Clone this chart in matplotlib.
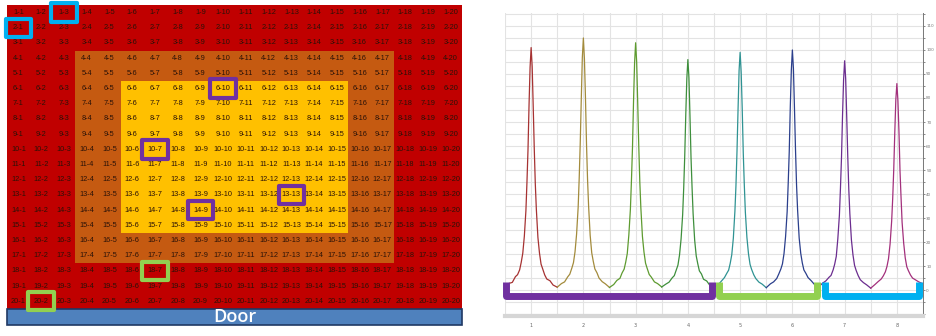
import numpy as np
import matplotlib
matplotlib.use("Agg")
import matplotlib.pyplot as plt
from matplotlib.colors import ListedColormap
from matplotlib.patches import Rectangle

# ---- left panel: 20 x 20 seat grid ----
n_rows = 20
n_cols = 20
middle_zone = (4, 17)   # rows/cols in the brown ring
inner_zone = (6, 15)    # rows/cols in the yellow centre
zone_colors = ["#c00000", "#c55a11", "#ffc000"]

blue_cells = [(1, 3), (2, 1)]
purple_cells = [(6, 10), (10, 7), (14, 9), (13, 13)]
green_cells = [(18, 7), (20, 2)]

# ---- right panel: eight peaks ----
peak_positions = [1, 2, 3, 4, 5, 6, 7, 8]
peak_colors = ["#a63232", "#a38b3c", "#5e9b30", "#3e8f3c",
               "#2f9393", "#2b3f8c", "#6b2d8f", "#a3307c"]
offsets = [-0.5, -0.42, -0.36, -0.3, -0.26, -0.22, -0.19, -0.16, -0.13, -0.1,
           -0.08, -0.06, -0.04, -0.02, 0, 0.02, 0.04, 0.06, 0.08, 0.1,
           0.13, 0.16, 0.19, 0.22, 0.26, 0.3, 0.36, 0.42, 0.5]
trace1 = [1.9, 2.8, 3.2, 5.6, 6.4, 8.4, 11.5, 15.3, 22.4, 33.0, 44.8, 58.3, 77.0, 92.8, 101.0,
          93.1, 76.4, 58.9, 44.2, 33.6, 21.9, 15.4, 10.8, 8.9, 6.3, 4.6, 3.9, 2.1, 1.2]
trace2 = [1.2, 2.7, 3.4, 5.5, 6.6, 9.2, 11.4, 15.9, 23.3, 34.4, 46.5, 61.2, 79.6, 96.9, 105.0,
          96.3, 80.1, 60.8, 46.0, 35.0, 22.8, 15.5, 11.9, 8.8, 7.2, 5.0, 3.5, 2.6, 1.1]
trace3 = [1.1, 2.3, 4.0, 4.9, 7.1, 8.7, 11.6, 15.2, 22.9, 33.7, 45.6, 59.4, 78.6, 94.5, 103.0,
          94.9, 77.9, 60.1, 45.1, 34.3, 22.4, 15.8, 11.2, 9.1, 6.5, 5.4, 3.4, 2.7, 1.3]
trace4 = [1.3, 2.5, 3.3, 5.1, 6.0, 8.5, 10.4, 14.6, 21.3, 31.4, 42.4, 55.9, 73.2, 88.1, 96.0,
          88.6, 72.7, 55.3, 42.8, 31.9, 20.8, 14.2, 10.9, 8.0, 6.7, 4.5, 3.8, 2.0, 1.2]
trace5 = [1.2, 2.2, 3.7, 5.2, 6.8, 8.3, 11.1, 14.7, 21.6, 32.8, 43.4, 57.7, 75.0, 91.4, 99.0,
          90.8, 75.6, 57.2, 43.8, 32.5, 21.9, 15.1, 10.7, 8.6, 6.4, 4.8, 3.3, 2.5, 1.0]
trace6 = [1.0, 2.6, 3.4, 4.8, 6.7, 8.8, 10.9, 15.2, 22.3, 32.6, 44.3, 57.6, 76.2, 91.6, 100.0,
          92.3, 75.8, 58.4, 43.7, 33.3, 21.7, 15.3, 11.3, 8.4, 6.9, 5.2, 3.9, 2.4, 1.3]
trace7 = [1.3, 2.9, 3.8, 5.3, 6.1, 8.4, 10.8, 14.0, 21.4, 31.2, 42.3, 55.1, 72.8, 87.5, 95.5,
          88.0, 72.3, 55.7, 41.8, 31.8, 20.9, 14.6, 10.3, 8.2, 6.0, 4.3, 3.1, 2.2, 0.8]
trace8 = [0.8, 2.3, 3.5, 4.6, 5.9, 7.6, 9.8, 13.1, 19.2, 28.7, 38.1, 50.2, 65.6, 79.3, 86.0,
          78.8, 65.9, 49.6, 38.5, 28.2, 19.6, 13.4, 9.7, 8.1, 6.3, 5.0, 4.2, 3.4, 2.6]
traces = [trace1, trace2, trace3, trace4, trace5, trace6, trace7, trace8]

# bracket spans along x (start, end) and colours
bracket_spans = [(0.52, 4.465), (4.6, 6.48), (6.63, 8.42)]
bracket_colors = ["#7030a0", "#92d050", "#00b0f0"]

fig = plt.figure(figsize=(9.36, 3.36), dpi=100)

# ---------------- left grid ----------------
axL = fig.add_axes([7 / 936, 10 / 336, 455 / 936, 321 / 336])
zone = np.zeros((n_rows, n_cols))
for r in range(1, n_rows + 1):
    for c in range(1, n_cols + 1):
        if inner_zone[0] <= r <= inner_zone[1] and inner_zone[0] <= c <= inner_zone[1]:
            zone[r - 1, c - 1] = 2
        elif middle_zone[0] <= r <= middle_zone[1] and middle_zone[0] <= c <= middle_zone[1]:
            zone[r - 1, c - 1] = 1
axL.pcolormesh(np.arange(n_cols + 1), np.arange(n_rows + 1), zone,
               cmap=ListedColormap(zone_colors), vmin=0, vmax=2)
for r in range(1, n_rows + 1):
    for c in range(1, n_cols + 1):
        axL.text(c - 0.5, r - 0.5, f"{r}-{c}", ha="center", va="center",
                 fontsize=5.3, family="Liberation Sans", color="#2a1208")

for cells, col in [(blue_cells, "#00b0f0"), (purple_cells, "#7030a0"), (green_cells, "#92d050")]:
    for r, c in cells:
        axL.add_patch(Rectangle((c - 1.06, r - 1.1), 1.12, 1.2, fill=False,
                                edgecolor=col, lw=3, joinstyle="round", clip_on=False, zorder=5))

axL.add_patch(Rectangle((0, 20.02), 20, 1.03, facecolor="#4f81bd", edgecolor="#1f3864",
                        lw=1.2, clip_on=False))
axL.text(10, 20.55, "Door", ha="center", va="center", color="white",
         fontsize=13, family="Open Sans", weight="semibold")
axL.set_xlim(0, n_cols)
axL.set_ylim(21.12, 0)
axL.axis("off")

# ---------------- right peaks ----------------
axR = fig.add_axes([505 / 936, 20 / 336, 418 / 936, 303 / 336])
for pos, vals, col in zip(peak_positions, traces, peak_colors):
    axR.plot(np.array(offsets) + pos, vals, color=col, lw=0.9)

for (x0, x1), col in zip(bracket_spans, bracket_colors):
    axR.plot([x0, x0, x1, x1], [3.3, -2.6, -2.6, 3.3], color=col, lw=5,
             solid_joinstyle="round", solid_capstyle="butt", clip_on=False, zorder=6)

axR.set_xlim(0.5, 8.5)
axR.set_ylim(-10.8, 115.4)
axR.set_xticks(peak_positions)
axR.set_xticks(np.arange(0.5, 8.6, 0.5), minor=True)
axR.set_yticks(np.arange(0, 111, 10))
axR.set_yticks(np.arange(-10, 116, 5), minor=True)
axR.grid(True, which="both", color="#e3e3e3", lw=0.8)
axR.yaxis.tick_right()
axR.tick_params(axis="y", which="both", direction="out", length=1.5, width=0.6,
                colors="#777777", labelsize=3, pad=0.8)
axR.tick_params(axis="x", which="both", length=0, labelsize=3.5, colors="#666666", pad=5)
for s in ["top", "left"]:
    axR.spines[s].set_visible(False)
axR.spines["right"].set_color("#777777")
axR.spines["right"].set_linewidth(0.7)
axR.spines["bottom"].set_color("#d6d6d6")
axR.spines["bottom"].set_linewidth(3)

fig.savefig("out.png", dpi=100)
